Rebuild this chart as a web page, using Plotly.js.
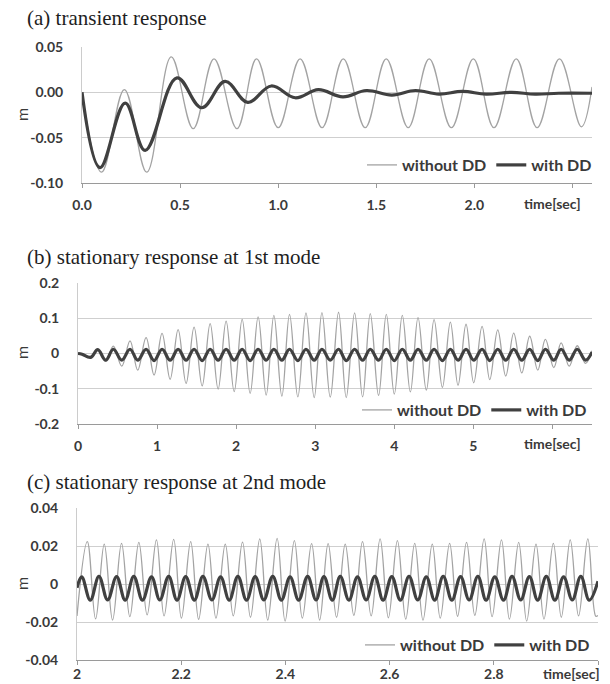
<!DOCTYPE html>
<html><head><meta charset="utf-8">
<script src="https://cdn.plot.ly/plotly-3.0.1.min.js"></script>
<style>html,body{margin:0;padding:0;background:#fff}#chart{width:610px;height:684px}</style>
</head><body><div id="chart"></div>
<script>
// ---------- data: (a) transient response ----------
const seriesNames = ["without DD", "with DD"];
const tA_without = [0, 0.100, 0.216, 0.330, 0.455, 0.567, 0.673, 0.790, 0.890, 1.000, 1.112, 1.224, 1.332, 1.444, 1.551, 1.663, 1.770, 1.883, 1.995, 2.100, 2.214, 2.320, 2.434, 2.546, 2.600];
const yA_without = [0, -0.088, 0.003, -0.088, 0.039, -0.040, 0.037, -0.040, 0.037, -0.039, 0.037, -0.039, 0.037, -0.039, 0.037, -0.039, 0.037, -0.039, 0.037, -0.039, 0.037, -0.039, 0.037, -0.038, 0.006];
const tA_with = [0, 0.092, 0.220, 0.322, 0.484, 0.610, 0.730, 0.845, 0.965, 1.087, 1.205, 1.330, 1.450, 1.580, 1.700, 1.820, 1.940, 2.060, 2.190, 2.310, 2.430, 2.600];
const yA_with = [0, -0.083, -0.012, -0.064, 0.016, -0.017, 0.012, -0.011, 0.007, -0.006, 0.003, -0.005, 0.002, -0.003, 0.002, -0.002, 0.001, -0.002, 0.000, -0.002, -0.001, -0.001];
const xTicksA = [0, 0.5, 1.0, 1.5, 2.0, 2.5];
const xLabelsA = ["0.0", "0.5", "1.0", "1.5", "2.0", ""];
const yTicksA = [-0.10, -0.05, 0.00, 0.05];
const yLabelsA = ["-0.10", "-0.05", "0.00", "0.05"];

// ---------- data: (b) stationary response at 1st mode ----------
const tB = [0, 0.05, 0.16, 0.25, 0.35, 0.447, 0.553, 0.658, 0.755, 0.861, 0.962, 1.063, 1.165, 1.266, 1.367, 1.468, 1.570, 1.671, 1.772, 1.873, 1.975, 2.076, 2.177, 2.278, 2.380, 2.477, 2.578, 2.675, 2.780, 2.883, 2.987, 3.085, 3.190, 3.295, 3.392, 3.498, 3.599, 3.696, 3.801, 3.899, 4.000, 4.101, 4.203, 4.300, 4.405, 4.503, 4.608, 4.709, 4.806, 4.907, 5.004, 5.110, 5.207, 5.308, 5.409, 5.510, 5.612, 5.712, 5.814, 5.911, 6.017, 6.110, 6.211, 6.313, 6.418, 6.500];
const yB_without = [0, 0, -0.011, 0.011, -0.021, 0.021, -0.036, 0.036, -0.047, 0.045, -0.061, 0.057, -0.073, 0.068, -0.085, 0.075, -0.092, 0.085, -0.101, 0.092, -0.108, 0.097, -0.113, 0.104, -0.118, 0.108, -0.121, 0.111, -0.123, 0.115, -0.125, 0.116, -0.124, 0.117, -0.125, 0.115, -0.123, 0.113, -0.119, 0.111, -0.115, 0.108, -0.109, 0.102, -0.104, 0.096, -0.096, 0.089, -0.090, 0.083, -0.083, 0.077, -0.074, 0.067, -0.064, 0.058, -0.055, 0.049, -0.047, 0.040, -0.040, 0.030, -0.036, 0.022, -0.028, 0.008];
const yB_with = [0, -0.002, -0.011, 0.011, -0.019, 0.012, -0.019, 0.012, -0.019, 0.012, -0.020, 0.012, -0.019, 0.012, -0.019, 0.012, -0.020, 0.012, -0.019, 0.012, -0.019, 0.012, -0.020, 0.012, -0.019, 0.012, -0.019, 0.012, -0.020, 0.012, -0.019, 0.012, -0.019, 0.012, -0.020, 0.012, -0.019, 0.012, -0.019, 0.012, -0.020, 0.012, -0.019, 0.012, -0.019, 0.012, -0.020, 0.012, -0.019, 0.012, -0.019, 0.012, -0.020, 0.012, -0.019, 0.012, -0.019, 0.012, -0.020, 0.012, -0.019, 0.012, -0.019, 0.012, -0.019, 0.004];
const xTicksB = [0, 1, 2, 3, 4, 5, 6];
const xLabelsB = ["0", "1", "2", "3", "4", "5", ""];
const yTicksB = [-0.2, -0.1, 0, 0.1, 0.2];
const yLabelsB = ["-0.2", "-0.1", "0", "0.1", "0.2"];

// ---------- data: (c) stationary response at 2nd mode ----------
const tC_without = [2.000, 2.0198, 2.0357, 2.0523, 2.0683, 2.0855, 2.1014, 2.1187, 2.1346, 2.1525, 2.1671, 2.1856, 2.2004, 2.2182, 2.2335, 2.2513, 2.2667, 2.2846, 2.2999, 2.3177, 2.3330, 2.3508, 2.3661, 2.3841, 2.3994, 2.4172, 2.4325, 2.4503, 2.4657, 2.4820, 2.4982, 2.5148, 2.5314, 2.5480, 2.5646, 2.5818, 2.5977, 2.6150, 2.6310, 2.6482, 2.6641, 2.6819, 2.6972, 2.7152, 2.7305, 2.7477, 2.7636, 2.7815, 2.7967, 2.8147, 2.8300, 2.8478, 2.8631, 2.8810, 2.8963, 2.9143, 2.9296, 2.9467, 2.9627, 2.9805, 2.9958, 3.000];
const yC_without = [-0.0168, 0.0223, -0.0184, 0.0210, -0.0190, 0.0214, -0.0172, 0.0219, -0.0163, 0.0232, -0.0168, 0.0235, -0.0180, 0.0223, -0.0186, 0.0210, -0.0180, 0.0210, -0.0168, 0.0220, -0.0175, 0.0237, -0.0190, 0.0240, -0.0195, 0.0228, -0.0180, 0.0212, -0.0190, 0.0212, -0.0175, 0.0210, -0.0165, 0.0223, -0.0168, 0.0237, -0.0178, 0.0228, -0.0185, 0.0214, -0.0190, 0.0210, -0.0180, 0.0214, -0.0170, 0.0219, -0.0165, 0.0237, -0.0172, 0.0232, -0.0185, 0.0219, -0.0195, 0.0210, -0.0185, 0.0214, -0.0175, 0.0232, -0.0168, 0.0237, -0.0170, -0.0166];
const tC_with = [2.000, 2.009, 2.0255, 2.0421, 2.0588, 2.076, 2.0924, 2.109, 2.1257, 2.143, 2.1589, 2.176, 2.192, 2.2086, 2.2252, 2.2417, 2.2589, 2.2756, 2.2922, 2.3088, 2.3254, 2.342, 2.3585, 2.3757, 2.3923, 2.409, 2.4254, 2.4427, 2.4588, 2.474, 2.490, 2.5053, 2.5219, 2.5384, 2.555, 2.5716, 2.5876, 2.6042, 2.6207, 2.6373, 2.654, 2.6704, 2.6865, 2.7029, 2.7196, 2.7362, 2.7527, 2.7694, 2.7853, 2.8019, 2.8186, 2.835, 2.8517, 2.8683, 2.8842, 2.9008, 2.9173, 2.934, 2.9506, 2.967, 2.9832, 3.000];
const yC_with = [-0.0020, 0.0038, -0.0085, 0.0040, -0.0084, 0.0039, -0.0085, 0.0040, -0.0085, 0.0038, -0.0084, 0.0040, -0.0085, 0.0039, -0.0085, 0.0040, -0.0084, 0.0038, -0.0085, 0.0040, -0.0085, 0.0039, -0.0084, 0.0040, -0.0085, 0.0038, -0.0085, 0.0040, -0.0084, 0.0039, -0.0085, 0.0040, -0.0085, 0.0038, -0.0084, 0.0040, -0.0085, 0.0039, -0.0085, 0.0040, -0.0084, 0.0038, -0.0085, 0.0040, -0.0085, 0.0039, -0.0084, 0.0040, -0.0085, 0.0038, -0.0085, 0.0040, -0.0084, 0.0039, -0.0085, 0.0040, -0.0085, 0.0038, -0.0084, 0.0040, -0.0085, 0.0015];
const xTicksC = [2.0, 2.2, 2.4, 2.6, 2.8, 3.0];
const xLabelsC = ["2", "2.2", "2.4", "2.6", "2.8", ""];
const yTicksC = [-0.04, -0.02, 0, 0.02, 0.04];
const yLabelsC = ["-0.04", "-0.02", "0", "0.02", "0.04"];

const panelTitles = ["(a) transient response", "(b) stationary response at 1st mode", "(c) stationary response at 2nd mode"];
const yTitle = "m";
const xTitle = "time[sec]";

// ---------- styling / layout ----------
const W = 610, H = 684;
const fx = v => v / W, fy = v => 1 - v / H;
const GRAY = '#a3a3a3', DARK = '#404040';
const tickFont = {family: 'Lato, "Open Sans", sans-serif', size: 14, color: '#3a3a3a', weight: 700};
const legendFont = {family: 'Lato, "Open Sans", sans-serif', size: 16, color: '#3a3a3a', weight: 700};
const serif = {family: '"Liberation Serif", "DejaVu Serif", serif', size: 21, color: '#1e1e1e'};

function mk(x, y, name, isDD, xa, ya, lg, show) {
  return {x: x, y: y, name: name, xaxis: xa, yaxis: ya, legend: lg, showlegend: show,
    type: 'scatter', mode: 'lines',
    line: {color: isDD ? DARK : GRAY, width: isDD ? 3.2 : 1.3, shape: 'spline', smoothing: 1.1}};
}
const data = [
  mk(tA_without, yA_without, seriesNames[0], false, 'x', 'y', 'legend', true),
  mk(tA_with, yA_with, seriesNames[1], true, 'x', 'y', 'legend', true),
  mk(tB, yB_without, seriesNames[0], false, 'x2', 'y2', 'legend2', true),
  mk(tB, yB_with, seriesNames[1], true, 'x2', 'y2', 'legend2', true),
  mk(tC_without, yC_without, seriesNames[0], false, 'x3', 'y3', 'legend3', true),
  mk(tC_with, yC_with, seriesNames[1], true, 'x3', 'y3', 'legend3', true)
];

function xax(dom, range, tv, tt, anchor, standoff) {
  return {domain: dom, range: range, anchor: anchor, tickvals: tv, ticktext: tt,
    ticks: 'outside', ticklen: 4, tickcolor: '#9a9a9a', tickwidth: 1,
    showline: true, linecolor: '#9a9a9a', linewidth: 1, showgrid: false, zeroline: false,
    tickfont: tickFont, ticklabelstandoff: standoff, fixedrange: true};
}
function yax(dom, range, tv, tt, anchor) {
  return {domain: dom, range: range, anchor: anchor, tickvals: tv, ticktext: tt,
    ticks: '', showline: true, linecolor: '#cccccc', linewidth: 1,
    showgrid: true, gridcolor: '#cfcfcf', gridwidth: 1, zeroline: false,
    tickfont: tickFont, ticklabelstandoff: 15, fixedrange: true};
}
function lg(sampleLeft, yc) {
  return {orientation: 'h', x: fx(sampleLeft - 5), xanchor: 'left', y: fy(yc), yanchor: 'middle',
    bgcolor: 'rgba(0,0,0,0)', borderwidth: 0, font: legendFont,
    traceorder: 'normal', itemclick: false, itemdoubleclick: false};
}

const annotations = [];
const titleY = [18, 257, 482];
panelTitles.forEach((t, i) => annotations.push({text: t, xref: 'paper', yref: 'paper',
  x: fx(25), y: fy(titleY[i]), xanchor: 'left', yanchor: 'middle', showarrow: false, font: serif}));
const mY = [115, 353, 584];
mY.forEach(v => annotations.push({text: yTitle, xref: 'paper', yref: 'paper', x: fx(21), y: fy(v),
  xanchor: 'center', yanchor: 'middle', textangle: -90, showarrow: false,
  font: {family: 'Lato, sans-serif', size: 16, color: '#3a3a3a'}}));
const tsec = [[583, 203], [583, 443], [602, 673]];
tsec.forEach(p => annotations.push({text: xTitle, xref: 'paper', yref: 'paper', x: fx(p[0]), y: fy(p[1]),
  xanchor: 'right', yanchor: 'middle', showarrow: false, font: tickFont}));

const layout = {
  width: W, height: H, margin: {l: 0, r: 0, t: 0, b: 0},
  paper_bgcolor: '#fff', plot_bgcolor: '#fff', showlegend: true,
  xaxis: xax([fx(82), fx(592)], [0, 2.6], xTicksA, xLabelsA, 'y', 5),
  yaxis: yax([fy(183), fy(47)], [-0.1, 0.05], yTicksA, yLabelsA, 'x'),
  xaxis2: xax([fx(78), fx(592)], [0, 6.5], xTicksB, xLabelsB, 'y2', 5),
  yaxis2: yax([fy(424), fy(283)], [-0.2, 0.2], yTicksB, yLabelsB, 'x2'),
  xaxis3: xax([fx(77), fx(598)], [2, 3], xTicksC, xLabelsC, 'y3', -3),
  yaxis3: yax([fy(660), fy(508)], [-0.04, 0.04], yTicksC, yLabelsC, 'x3'),
  legend: lg(367, 165), legend2: lg(362, 410), legend3: lg(365, 645),
  annotations: annotations
};
Plotly.newPlot('chart', data, layout, {displayModeBar: false, staticPlot: true});
</script></body></html>
